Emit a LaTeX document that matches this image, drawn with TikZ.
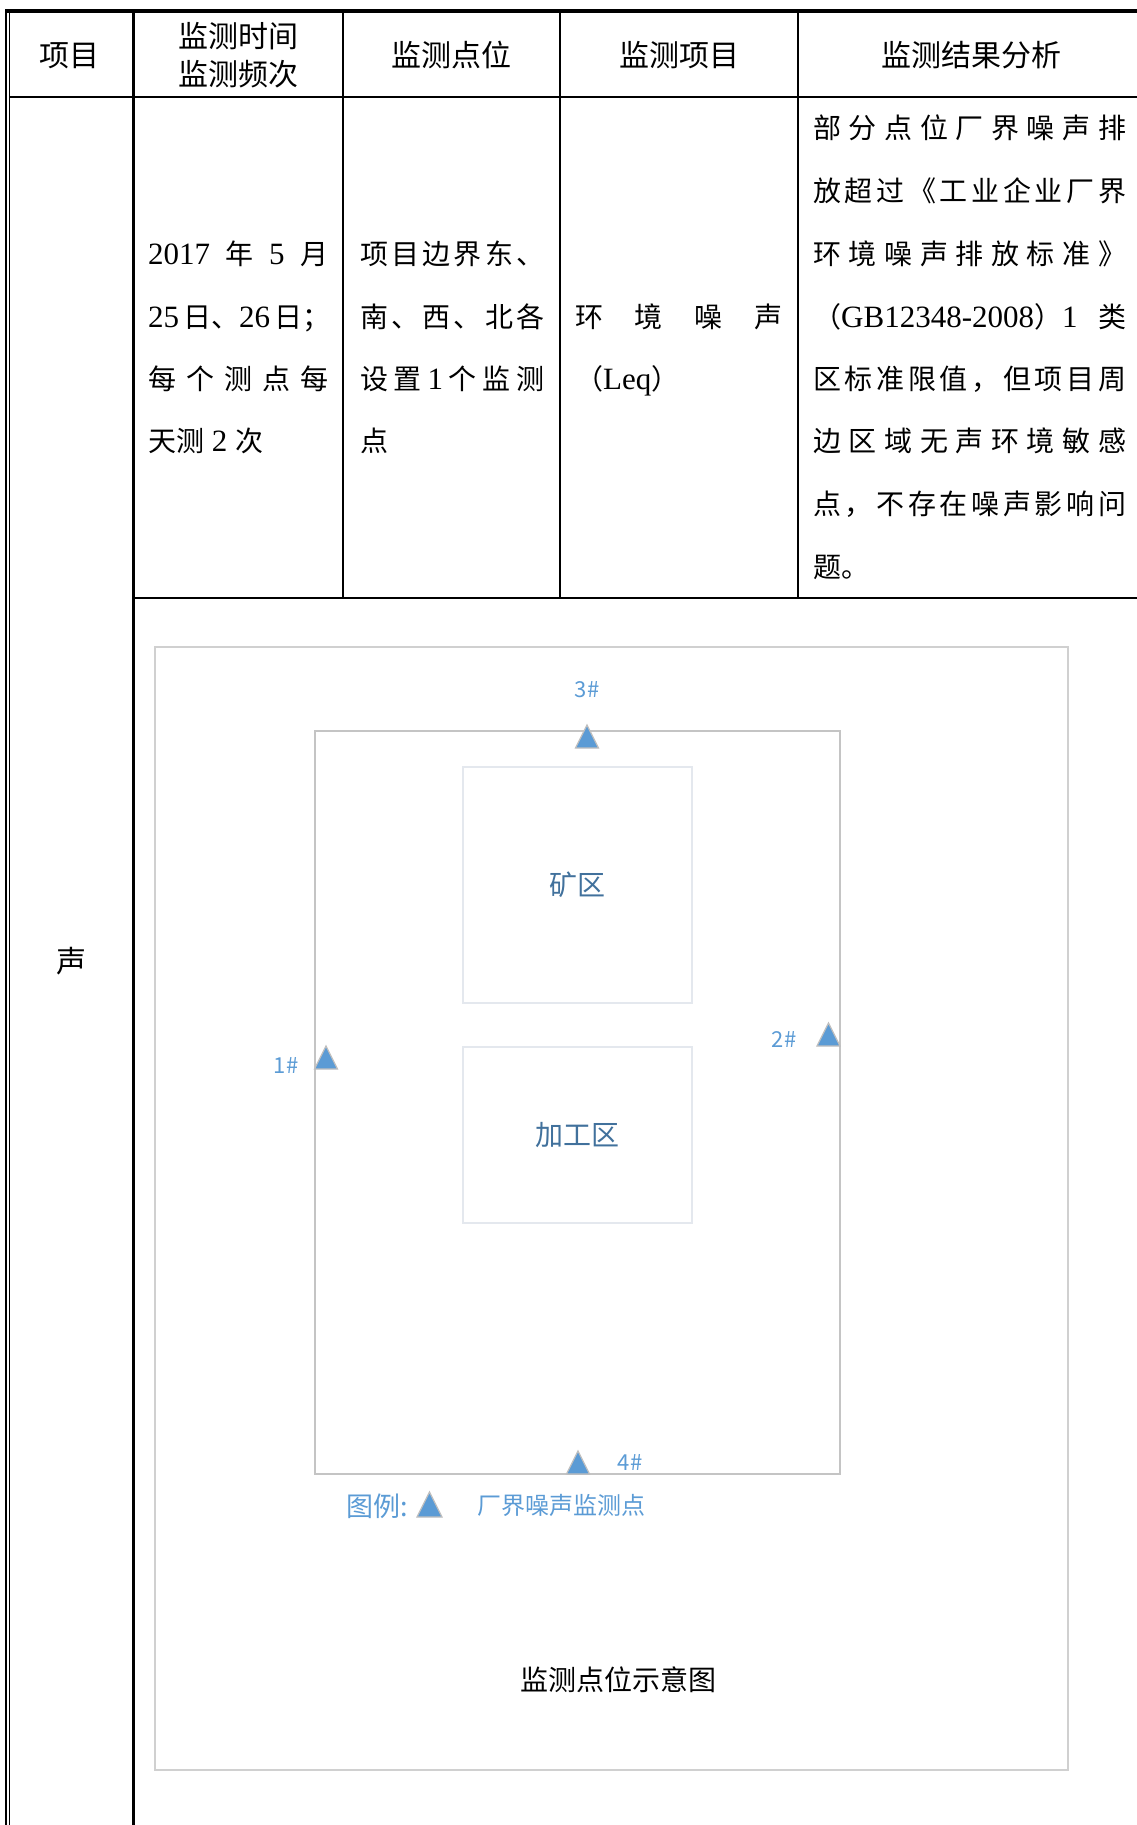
\documentclass[tikz,border=0pt]{standalone}
\usepackage{fontspec}
\setmainfont{Noto Sans CJK SC}
\newfontfamily\tnr{Liberation Serif}
\definecolor{ptblue}{HTML}{5B9BD5}
\definecolor{zonetxt}{HTML}{41719C}
\definecolor{tribd}{HTML}{BFBFBF}
\definecolor{rectbd}{HTML}{C4C4C4}
\definecolor{framebd}{HTML}{D0D0D0}
\definecolor{zonebd}{HTML}{E4E8EE}
\newcommand\ltn[1]{{\tnr\fontsize{31}{34}\selectfont #1}}
\ExplSyntaxOn
\NewDocumentCommand\sprd{mm}{
  \seq_clear:N \l_tmpa_seq
  \tl_map_inline:nn {#2} { \seq_put_right:Nn \l_tmpa_seq {##1} }
  \makebox[#1]{ \seq_use:Nn \l_tmpa_seq { \hfill } }
}
\ExplSyntaxOff
\newcommand\trimk[3]{\draw[trimark] (#1,#2) -- ++(#3/2,#3) -- ++(-#3,0) -- cycle;}
\tikzset{
  hdr/.style={font=\fontsize{30}{34}\selectfont, inner sep=0pt, text height=25pt, text depth=2pt},
  bodytxt/.style={font=\fontsize{28}{32}\selectfont, inner sep=0pt, anchor=west, text height=23.3pt, text depth=2pt},
  ptlabel/.style={font=\fontsize{22}{25}\selectfont, text=ptblue, inner sep=0pt},
  zonebox/.style={draw=zonebd, line width=1.5pt, inner sep=0pt, font=\fontsize{28}{32}\selectfont, text=zonetxt},
  trimark/.style={fill=ptblue, draw=tribd, line width=1.2pt, line join=miter},
  gridline/.style={line width=2.5pt, black},
}
\begin{document}
\begin{tikzpicture}[x=1pt,y=-1pt]
\useasboundingbox (0,0) rectangle (1137,1825);
% table rules
\draw[line width=3.5pt] (5,11.2) -- (1137,11.2);
\draw[line width=2pt] (6.3,9.5) -- (6.3,1825);
\draw[line width=1pt] (9.5,12) -- (9.5,1825);
\draw[gridline] (9.5,97) -- (1137,97);
\draw[gridline] (133.3,12) -- (133.3,1825);
\draw[gridline] (343,12) -- (343,598);
\draw[gridline] (560,12) -- (560,598);
\draw[gridline] (798,12) -- (798,598);
\draw[gridline] (133.3,598) -- (1137,598);
% header
\node[hdr] (h1) at (69,55) {项目};
\node[hdr] (h2a) at (238,36) {监测时间};
\node[hdr] (h2b) at (238,74) {监测频次};
\node[hdr] (h3) at (451.5,55) {监测点位};
\node[hdr] (h4) at (679,55) {监测项目};
\node[hdr] (h5) at (971,55) {监测结果分析};
\node[hdr] (sheng) at (71,961) {声};
% column 2
\node[bodytxt] (c2a) at (148,254) {\sprd{180pt}{{\ltn{2017}}年{\ltn{5}}月}};
\node[bodytxt] (c2b) at (148,317) {\makebox[180pt][l]{\ltn{25}\hspace{4pt}日、\ltn{26}\hspace{4pt}日；}};
\node[bodytxt] (c2c) at (148,379) {\sprd{180pt}{每个测点每}};
\node[bodytxt] (c2d) at (148,441) {天测\ltn{ 2 }次};
% column 3
\node[bodytxt] (c3a) at (360,254) {\sprd{184pt}{项目边界东、}};
\node[bodytxt] (c3b) at (360,317) {\sprd{184pt}{南、西、北各}};
\node[bodytxt] (c3c) at (360,379) {\sprd{184pt}{设置{\ltn{1}}个监测}};
\node[bodytxt] (c3d) at (360,441) {点};
% column 4
\node[bodytxt] (c4a) at (575,317) {\sprd{207pt}{环境噪声}};
\node[bodytxt] (c4b) at (575,379) {（\ltn{Leq}）};
% column 5
\node[bodytxt] (c5a) at (813,128) {\sprd{313pt}{部分点位厂界噪声排}};
\node[bodytxt] (c5b) at (813,191) {\sprd{313pt}{放超过《工业企业厂界}};
\node[bodytxt] (c5c) at (813,254) {\sprd{313pt}{环境噪声排放标准》}};
\node[bodytxt] (c5d) at (813,317) {\sprd{313pt}{{（\ltn{GB12348-2008}）\ltn{1}}类}};
\node[bodytxt] (c5e) at (813,379) {\sprd{313pt}{区标准限值，但项目周}};
\node[bodytxt] (c5f) at (813,441) {\sprd{313pt}{边区域无声环境敏感}};
\node[bodytxt] (c5g) at (813,504) {\sprd{313pt}{点，不存在噪声影响问}};
\node[bodytxt] (c5h) at (813,567) {题。};
% diagram
\node[draw=framebd, line width=1.3pt, minimum width=913pt, minimum height=1123pt, inner sep=0pt] (frame) at (611.5,1208.5) {};
\node[draw=rectbd, line width=2pt, minimum width=525pt, minimum height=743pt, inner sep=0pt] (site) at (577.5,1102.5) {};
\node[zonebox, minimum width=229pt, minimum height=236pt] (mine) at (577.5,885) {矿区};
\node[zonebox, minimum width=229pt, minimum height=176pt] (proc) at (577.5,1135) {加工区};
\trimk{587}{725}{23}
\trimk{326}{1046}{23}
\trimk{828.5}{1023}{23}
\trimk{578}{1451}{23}
\node[ptlabel] (l3) at (587,690) {3\#};
\node[ptlabel] (l1) at (286,1066) {1\#};
\node[ptlabel] (l2) at (784,1040) {2\#};
\node[ptlabel] (l4) at (630,1462) {4\#};
\node[font=\fontsize{27}{30}\selectfont, text=ptblue, inner sep=0pt] (lg1) at (377,1506) {图例:};
\trimk{429.5}{1492}{25}
\node[font=\fontsize{24}{28}\selectfont, text=ptblue, inner sep=0pt] (lg2) at (561,1505) {厂界噪声监测点};
\node[font=\fontsize{28}{32}\selectfont, inner sep=0pt] (cap) at (618,1680) {监测点位示意图};
\end{tikzpicture}
\end{document}
